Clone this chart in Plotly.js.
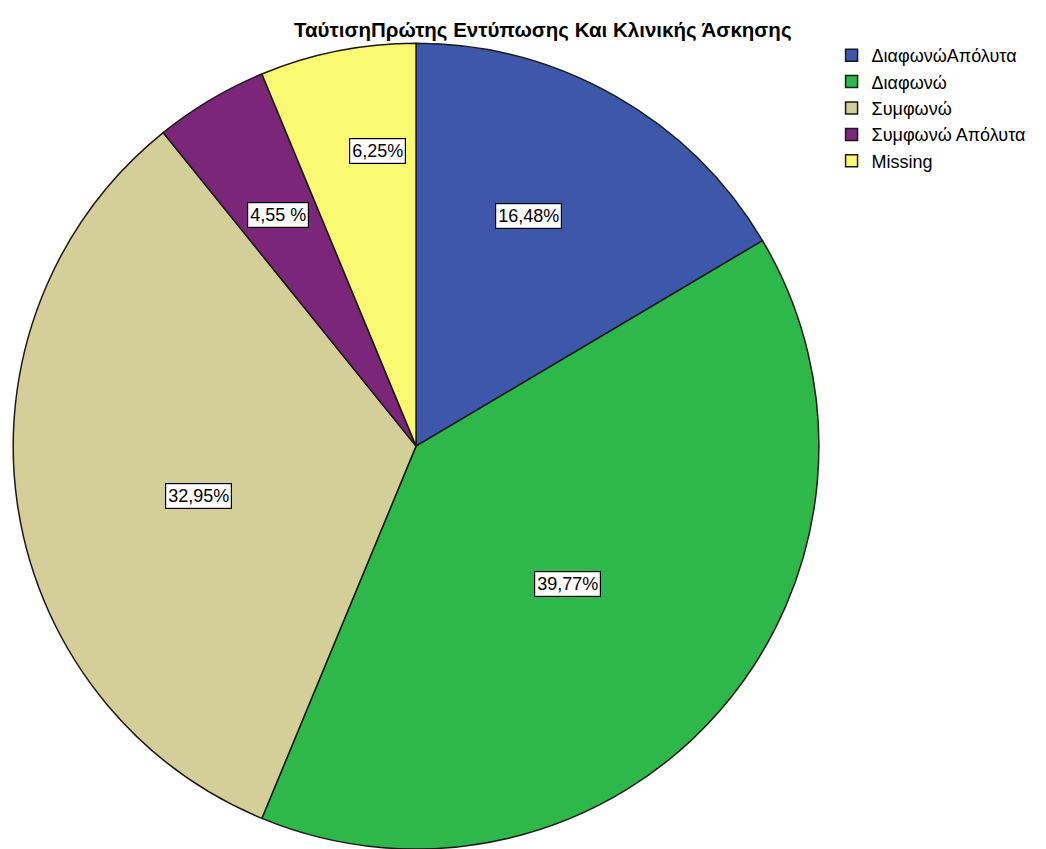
<!DOCTYPE html>
<html>
<head>
<meta charset="utf-8">
<script src="https://cdn.plot.ly/plotly-3.0.1.min.js"></script>
<style>html,body{margin:0;padding:0;background:#fff;}#chart{width:1046px;height:849px;}</style>
</head>
<body>
<div id="chart"></div>
<script>
// ---- data ----
const categories = ["ΔιαφωνώΑπόλυτα", "Διαφωνώ", "Συμφωνώ", "Συμφωνώ Απόλυτα", "Missing"];
const percents = [16.48, 39.77, 32.95, 4.55, 6.25];
const percentLabels = ["16,48%", "39,77%", "32,95%", "4,55 %", "6,25%"];
const chartTitle = "ΤαύτισηΠρώτης Εντύπωσης Και Κλινικής Άσκησης";

// ---- style ----
const colors = ["#3d58ab", "#2fb84a", "#d4ce98", "#7c2679", "#fbf872"];
const W = 1046, H = 849;
const domX = [0.0115, 0.784];
const domY = [0.0, 0.949];
// label placement within each slice (layout only)
const labelRadius = [0.637, 0.508, 0.555, 0.668, 0.738];
const labelAngleFrac = [0.44, 0.51, 0.46, 0.49, 0.67];
const FONT = "Liberation Sans, Arial, sans-serif";

// compute label positions from pie geometry
const cx = (domX[0] + domX[1]) / 2 * W;
const cyPaper = (domY[0] + domY[1]) / 2;
const cy = (1 - cyPaper) * H;
const R = Math.min((domX[1] - domX[0]) * W, (domY[1] - domY[0]) * H) / 2;
const total = percents.reduce((a, b) => a + b, 0);
let cum = 0;
const annotations = percents.map((v, i) => {
  const ang = (cum + v * labelAngleFrac[i]) / total * 2 * Math.PI;
  cum += v;
  const r = R * labelRadius[i];
  const px = cx + r * Math.sin(ang);
  const py = cy - r * Math.cos(ang);
  return {
    x: px / W, y: 1 - py / H, xref: "paper", yref: "paper",
    xanchor: "center", yanchor: "middle", showarrow: false,
    text: percentLabels[i],
    font: {family: FONT, size: 18, color: "#000"},
    bgcolor: "#ffffff", bordercolor: "#000000", borderwidth: 1.2, borderpad: 2
  };
});

annotations.push({
  x: 0.519, y: 1 - 30 / H, xref: "paper", yref: "paper",
  xanchor: "center", yanchor: "middle", showarrow: false,
  text: "<b>" + chartTitle + "</b>",
  font: {family: FONT, size: 20.5, color: "#000"}
});

const trace = {
  type: "pie",
  labels: categories,
  values: percents,
  sort: false,
  direction: "clockwise",
  rotation: 0,
  textinfo: "none",
  hoverinfo: "label+percent",
  marker: {colors: colors, line: {color: "#1a1a1a", width: 1.5}},
  domain: {x: domX, y: domY}
};

const layout = {
  width: W, height: H,
  margin: {l: 0, r: 0, t: 0, b: 0},
  paper_bgcolor: "#ffffff",
  showlegend: true,
  legend: {
    x: 0.795, y: 1 - 37 / H, xanchor: "left", yanchor: "top",
    font: {family: FONT, size: 18, color: "#000"},
    bgcolor: "rgba(0,0,0,0)", tracegroupgap: 0
  },
  annotations: annotations
};

Plotly.newPlot("chart", [trace], layout, {displayModeBar: false, staticPlot: true});
</script>
</body>
</html>
